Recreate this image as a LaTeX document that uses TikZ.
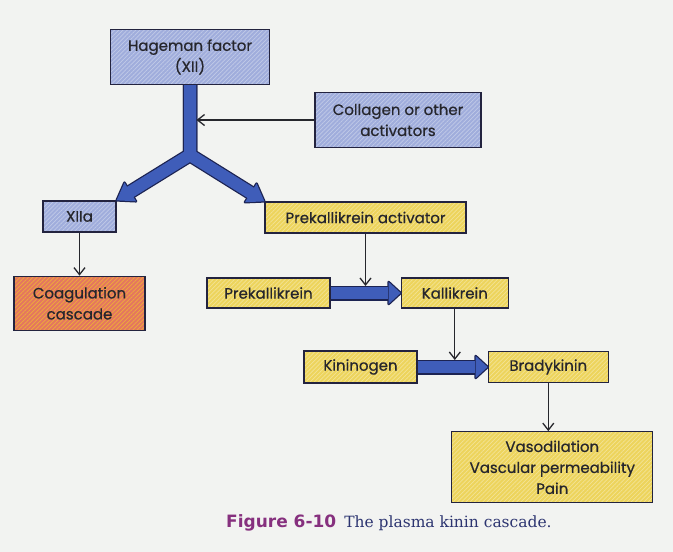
\documentclass[tikz,border=0pt]{standalone}
\usepackage{fontspec}
\setsansfont[FakeBold=0.6]{Poppins}
\newfontfamily\figfont{DejaVu Sans}
\newfontfamily\capfont{DejaVu Serif}
\usetikzlibrary{positioning,calc,arrows.meta,patterns.meta}

\definecolor{paper}{HTML}{F2F3F1}
\definecolor{boxline}{HTML}{23233F}
\definecolor{boxblue}{HTML}{A0ADDC}
\definecolor{boxyellow}{HTML}{EDD45C}
\definecolor{boxred}{HTML}{E4775F}
\definecolor{fatblue}{HTML}{3F5DB9}
\definecolor{fatline}{HTML}{1C2352}
\definecolor{ink}{HTML}{26262C}
\definecolor{figpurple}{HTML}{86307E}
\definecolor{capblue}{HTML}{2C3470}

\begin{document}
\begin{tikzpicture}[x=1pt,y=-1pt,
  mybox/.style={draw=boxline, line width=1.3pt, inner sep=0pt, align=center, text=ink,
    font=\sffamily\fontsize{15}{21}\selectfont},
  hatch/.style={preaction={fill=#1}, preaction={pattern={Lines[angle=45,distance=3pt,line width=0.7pt]}, pattern color=#1!65!white}},
  bluebox/.style={mybox, hatch=boxblue},
  yellowbox/.style={mybox, hatch=boxyellow},
  redbox/.style={mybox, preaction={fill=boxred}, preaction={pattern={Lines[angle=45,distance=3pt,line width=0.7pt]}, pattern color=boxred!60!yellow}},
  thinarrow/.style={draw=ink, line width=1.3pt, -{Straight Barb[length=7pt,width=11pt]}},
  fatrim/.style={draw=fatline, line width=#1, line join=miter},
  fatbody/.style={draw=fatblue, line width=#1, line join=miter}]

\fill[paper] (0,0) rectangle (673,552);

% boxes
\node[bluebox, minimum width=159pt, minimum height=55pt] (hag) at (190,57) {Hageman factor\\(XII)};
\node[bluebox, minimum width=166pt, minimum height=55pt] (coll) at (398,120) {Collagen or other\\activators};
\node[bluebox, minimum width=73pt, minimum height=31pt] (xiia) at (79.5,216.5) {XIIa};
\node[redbox, minimum width=131pt, minimum height=54pt, below=43pt of xiia] (coag) {Coagulation\\cascade};
\node[yellowbox, minimum width=201pt, minimum height=31pt] (pka) at (365.5,217.5) {Prekallikrein activator};
\node[yellowbox, minimum width=123pt, minimum height=30pt] (prek) at (268.5,293) {Prekallikrein};
\node[yellowbox, minimum width=107pt, minimum height=30pt, right=70pt of prek] (kall) {Kallikrein};
\node[yellowbox, minimum width=113pt, minimum height=32pt] (kin) at (360.5,367) {Kininogen};
\node[yellowbox, minimum width=120pt, minimum height=31pt, right=70pt of kin] (brad) {Bradykinin};
\node[yellowbox, minimum width=201pt, minimum height=71pt, below=48pt of brad, xshift=4pt] (vaso) {Vasodilation\\Vascular permeability\\Pain};

% caption
\node[anchor=base west, inner sep=0pt] (cap) at (226,527)
  {\figfont\bfseries\fontsize{17}{17}\selectfont\color{figpurple}Figure 6-10\hspace{8pt}\capfont\mdseries\fontsize{15.5}{17}\selectfont\color{capblue}The plasma kinin cascade.};

% fat arrows
\coordinate (J) at (190,155);
\coordinate (lend) at ($(xiia.north east)!14pt!(J)$);
\coordinate (rend) at ($(pka.north west)!14pt!(J)$);
\coordinate (lb) at ($(xiia.north east)!16pt!(J)$);
\coordinate (rb) at ($(pka.north west)!16pt!(J)$);
\coordinate (hb1) at ($(kall.west)!12pt!(prek.east)$);
\coordinate (hb2) at ($(brad.west)!12pt!(kin.east)$);

\draw[fatrim=14.5pt] (hag.south) -- (J) -- (lend);
\draw[fatrim=14.5pt] (hag.south) -- (J) -- (rend);
\draw[fatrim=15pt] (prek.east) -- ($(hb1)!-1pt!(kall.west)$);
\draw[fatrim=15pt] (kin.east) -- ($(hb2)!-1pt!(brad.west)$);
\draw[fatline, line width=2.5pt, line join=round] (xiia.north east) -- ($(lb)!11pt!90:(J)$) -- ($(lb)!11pt!-90:(J)$) -- cycle;
\draw[fatline, line width=2.5pt, line join=round] (pka.north west) -- ($(rb)!11pt!90:(J)$) -- ($(rb)!11pt!-90:(J)$) -- cycle;
\draw[fatline, line width=2.5pt, line join=round] (kall.west) -- ($(hb1)!11pt!90:(kall.west)$) -- ($(hb1)!11pt!-90:(kall.west)$) -- cycle;
\draw[fatline, line width=2.5pt, line join=round] (brad.west) -- ($(hb2)!11pt!90:(brad.west)$) -- ($(hb2)!11pt!-90:(brad.west)$) -- cycle;

\draw[fatbody=12pt] (hag.south) -- (J) -- (lend);
\draw[fatbody=12pt] (hag.south) -- (J) -- (rend);
\draw[fatbody=12.5pt] (prek.east) -- ($(hb1)!-1pt!(kall.west)$);
\draw[fatbody=12.5pt] (kin.east) -- ($(hb2)!-1pt!(brad.west)$);
\fill[fatblue] (xiia.north east) -- ($(lb)!11pt!90:(J)$) -- ($(lb)!11pt!-90:(J)$) -- cycle;
\fill[fatblue] (pka.north west) -- ($(rb)!11pt!90:(J)$) -- ($(rb)!11pt!-90:(J)$) -- cycle;
\fill[fatblue] (kall.west) -- ($(hb1)!11pt!90:(kall.west)$) -- ($(hb1)!11pt!-90:(kall.west)$) -- cycle;
\fill[fatblue] (brad.west) -- ($(hb2)!11pt!90:(brad.west)$) -- ($(hb2)!11pt!-90:(brad.west)$) -- cycle;

% thin arrows
\draw[thinarrow, shorten >=6.5pt] (coll.west) -- (coll.west -| J);
\draw[thinarrow] (xiia.south) -- (coag.north);
\draw[thinarrow, shorten >=7pt] (pka.south) -- (pka.south |- prek.east);
\draw[thinarrow, shorten >=7pt] (kall.south) -- (kall.south |- kin.east);
\draw[thinarrow] (brad.south) -- (brad.south |- vaso.north);

\end{tikzpicture}
\end{document}
